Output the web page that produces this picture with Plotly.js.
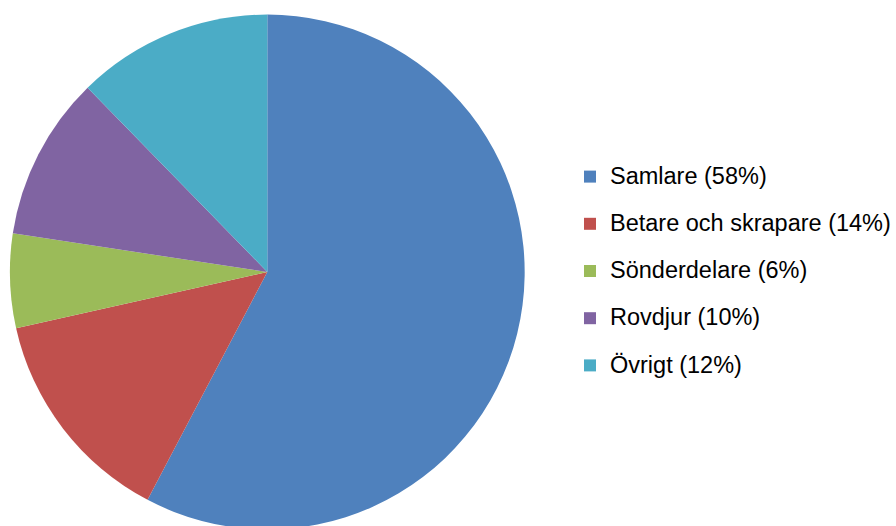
<!DOCTYPE html>
<html>
<head>
<meta charset="utf-8">
<script src="https://cdn.plot.ly/plotly-3.0.1.min.js"></script>
<style>
html,body{margin:0;padding:0;overflow:hidden;background:#fff;width:896px;height:526px;}
#chart{width:896px;height:544px;}
</style>
</head>
<body>
<div id="chart"></div>
<script>
const categories = ["Samlare", "Betare och skrapare", "Sönderdelare", "Rovdjur", "Övrigt"];
// slice sizes
const values = [57.7, 13.8, 5.9, 10.3, 12.3];
// rounded percentages shown in the legend labels
const labelPercents = [58, 14, 6, 10, 12];
const colors = ["#4F81BD", "#C0504D", "#9BBB59", "#8064A2", "#4BACC6"];

const labels = categories.map((c, i) =>
  '<span style="font-size:23.5px;baseline-shift:6px">' + c + ' (' + labelPercents[i] + '%)</span>');

const W = 896, H = 544;
const trace = {
  type: 'pie',
  labels: labels,
  values: values,
  sort: false,
  direction: 'clockwise',
  rotation: 0,
  textinfo: 'none',
  hoverinfo: 'skip',
  marker: {colors: colors, line: {width: 0}},
  domain: {x: [10 / W, 530 / W], y: [0, 1]}
};

const layout = {
  width: W,
  height: H,
  margin: {l: 0, r: 0, t: 0, b: 0},
  paper_bgcolor: '#ffffff',
  font: {family: 'Liberation Sans, Arial, sans-serif', color: '#000000'},
  showlegend: true,
  legend: {
    x: 576 / W, xanchor: 'left',
    y: (H - 271) / H, yanchor: 'middle',
    font: {size: 34, family: 'Liberation Sans, Arial, sans-serif', color: '#000000'},
    bgcolor: 'rgba(0,0,0,0)',
    borderwidth: 0
  }
};

Plotly.newPlot('chart', [trace], layout, {staticPlot: true, displayModeBar: false});
</script>
</body>
</html>
